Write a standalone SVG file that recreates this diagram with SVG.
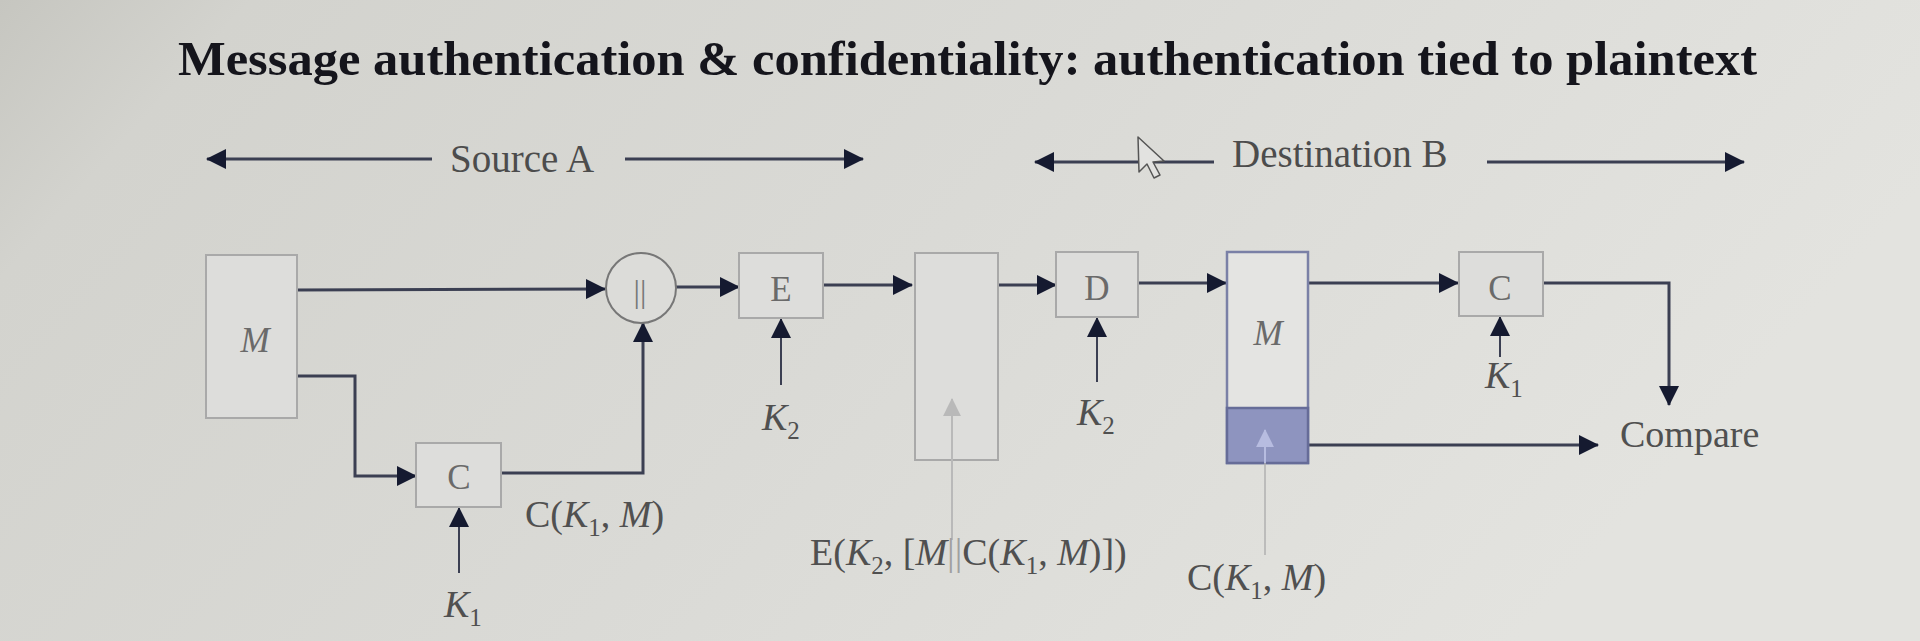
<svg xmlns="http://www.w3.org/2000/svg" width="1920" height="641" viewBox="0 0 1920 641">
<defs>
<linearGradient id="bg" x1="0" y1="0" x2="1" y2="0.3">
<stop offset="0" stop-color="#c6c6c0"/>
<stop offset="0.12" stop-color="#d3d3ce"/>
<stop offset="0.55" stop-color="#dadad6"/>
<stop offset="1" stop-color="#e3e3df"/>
</linearGradient>
<marker id="ah" viewBox="0 0 20 20" refX="19" refY="10" markerWidth="20" markerHeight="20" markerUnits="userSpaceOnUse" orient="auto">
<path d="M0,0 L20,10 L0,20 z" fill="#151a30"/>
</marker>
<marker id="ahs" viewBox="0 0 20 20" refX="19" refY="10" markerWidth="20" markerHeight="20" markerUnits="userSpaceOnUse" orient="auto-start-reverse">
<path d="M0,0 L20,10 L0,20 z" fill="#151a30"/>
</marker>
<marker id="ahg" viewBox="0 0 20 20" refX="19" refY="10" markerWidth="18" markerHeight="18" markerUnits="userSpaceOnUse" orient="auto">
<path d="M0,0 L20,10 L0,20 z" fill="#b9b9b9"/>
</marker>
<marker id="ahb" viewBox="0 0 20 20" refX="19" refY="10" markerWidth="18" markerHeight="18" markerUnits="userSpaceOnUse" orient="auto">
<path d="M0,0 L20,10 L0,20 z" fill="#b7bce0"/>
</marker>
</defs>
<style>
.title{font-family:"Liberation Serif","Times New Roman",serif;font-weight:bold;font-size:49px;fill:#15151c}
.lbl{font-family:"Liberation Serif","Times New Roman",serif;font-size:38px;fill:#505050}
.big{font-family:"Liberation Serif","Times New Roman",serif;font-size:39px;fill:#4c4c4c}
.box{fill:#dddddb;stroke:#a9a9a9;stroke-width:2}
.bl{font-family:"Liberation Serif","Times New Roman",serif;font-size:35px;fill:#6a6a6a;text-anchor:middle}
.it{font-style:italic}
.sub{font-size:25px}
.ln{fill:none;stroke:#3b3f52;stroke-width:3}
.gl{fill:none;stroke:#b9b9b9;stroke-width:2}
</style>
<rect x="0" y="0" width="1920" height="641" fill="url(#bg)"/>

<text class="title" x="178" y="75" textLength="1579" lengthAdjust="spacingAndGlyphs">Message authentication &amp; confidentiality: authentication tied to plaintext</text>

<g id="source-a">
<line class="ln" x1="207" y1="159" x2="432" y2="159" marker-start="url(#ahs)"/>
<text class="big" x="450" y="172">Source A</text>
<line class="ln" x1="625" y1="159" x2="863" y2="159" marker-end="url(#ah)"/>
</g>
<g id="destination-b">
<line class="ln" x1="1035" y1="162" x2="1214" y2="162" marker-start="url(#ahs)"/>
<text class="big" x="1232" y="167">Destination B</text>
<line class="ln" x1="1487" y1="162" x2="1744" y2="162" marker-end="url(#ah)"/>
</g>

<g id="cursor">
<path d="M1138,137 L1139,172 L1147,164 L1154,178 L1160,175 L1153,162 L1164,161 Z" fill="#e2e2e0" stroke="#555" stroke-width="1.5" stroke-linejoin="round"/>
</g>

<g id="connectors">
<line class="ln" x1="296" y1="290" x2="605" y2="289" marker-end="url(#ah)"/>
<path class="ln" d="M298,376 H355 V476 H416" marker-end="url(#ah)"/>
<path class="ln" d="M501,473 H643 V323" marker-end="url(#ah)"/>
<line class="ln" x1="676" y1="287" x2="739" y2="287" marker-end="url(#ah)"/>
<line class="ln" x1="781" y1="385" x2="781" y2="319" marker-end="url(#ah)" style="stroke-width:2"/>
<line class="ln" x1="823" y1="285" x2="912" y2="285" marker-end="url(#ah)"/>
<line class="ln" x1="998" y1="285" x2="1056" y2="285" marker-end="url(#ah)"/>
<line class="ln" x1="1097" y1="382" x2="1097" y2="318" marker-end="url(#ah)" style="stroke-width:2"/>
<line class="ln" x1="1138" y1="283" x2="1226" y2="283" marker-end="url(#ah)"/>
<line class="ln" x1="1308" y1="283" x2="1458" y2="283" marker-end="url(#ah)"/>
<line class="ln" x1="1500" y1="357" x2="1500" y2="317" marker-end="url(#ah)" style="stroke-width:2"/>
<path class="ln" d="M1543,283 H1669 V405" marker-end="url(#ah)"/>
<line class="ln" x1="1308" y1="445" x2="1598" y2="445" marker-end="url(#ah)"/>
<line class="ln" x1="459" y1="573" x2="459" y2="508" marker-end="url(#ah)" style="stroke-width:2"/>
</g>

<g id="node-m-src">
<rect class="box" x="206" y="255" width="91" height="163"/>
<text class="bl it" x="255" y="352">M</text>
</g>
<g id="node-concat">
<circle cx="641" cy="288" r="35" fill="#dcdcd9" stroke="#777" stroke-width="2"/>
<text class="bl" x="640" y="302" style="font-size:32px;fill:#777">||</text>
</g>
<g id="node-c-src">
<rect class="box" x="416" y="443" width="85" height="64"/>
<text class="bl" x="459" y="489">C</text>
</g>
<g id="label-ck1m-src">
<text class="lbl" x="525" y="527">C(<tspan class="it">K</tspan><tspan class="sub" dy="9">1</tspan><tspan dy="-9">, </tspan><tspan class="it">M</tspan>)</text>
</g>
<g id="label-k1-src">
<text class="lbl" x="444" y="617"><tspan class="it">K</tspan><tspan class="sub" dy="9">1</tspan></text>
</g>
<g id="node-e">
<rect class="box" x="739" y="253" width="84" height="65"/>
<text class="bl" x="781" y="301">E</text>
</g>
<g id="label-k2-e">
<text class="lbl" x="762" y="430"><tspan class="it">K</tspan><tspan class="sub" dy="9">2</tspan></text>
</g>
<g id="node-cipher">
<rect class="box" x="915" y="253" width="83" height="207"/>
<line class="gl" x1="952" y1="540" x2="952" y2="399" marker-end="url(#ahg)"/>
</g>
<g id="label-cipher">
<text class="lbl" x="810" y="565">E(<tspan class="it">K</tspan><tspan class="sub" dy="9">2</tspan><tspan dy="-9">, [</tspan><tspan class="it">M</tspan><tspan fill="#a0a0a0">||</tspan>C(<tspan class="it">K</tspan><tspan class="sub" dy="9">1</tspan><tspan dy="-9">, </tspan><tspan class="it">M</tspan>)])</text>
</g>
<g id="node-d">
<rect class="box" x="1056" y="252" width="82" height="65"/>
<text class="bl" x="1097" y="300">D</text>
</g>
<g id="label-k2-d">
<text class="lbl" x="1077" y="425"><tspan class="it">K</tspan><tspan class="sub" dy="9">2</tspan></text>
</g>
<g id="node-m-dst">
<rect x="1227" y="252" width="81" height="211" fill="#e4e4e2" stroke="#7a80a6" stroke-width="2.5"/>
<rect x="1227" y="408" width="81" height="55" fill="#8e94bf" stroke="#666c98" stroke-width="2.5"/>
<text class="bl it" x="1268" y="345">M</text>
<line x1="1265" y1="555" x2="1265" y2="463" stroke="#b0b0b0" stroke-width="1.5"/>
<line x1="1265" y1="463" x2="1265" y2="430" stroke="#b7bce0" stroke-width="2" marker-end="url(#ahb)"/>
</g>
<g id="label-ck1m-dst">
<text class="lbl" x="1187" y="590">C(<tspan class="it">K</tspan><tspan class="sub" dy="9">1</tspan><tspan dy="-9">, </tspan><tspan class="it">M</tspan>)</text>
</g>
<g id="node-c-dst">
<rect class="box" x="1459" y="252" width="84" height="64"/>
<text class="bl" x="1500" y="300">C</text>
</g>
<g id="label-k1-dst">
<text class="lbl" x="1485" y="388"><tspan class="it">K</tspan><tspan class="sub" dy="9">1</tspan></text>
</g>
<g id="label-compare">
<text class="lbl" x="1620" y="447">Compare</text>
</g>
</svg>
